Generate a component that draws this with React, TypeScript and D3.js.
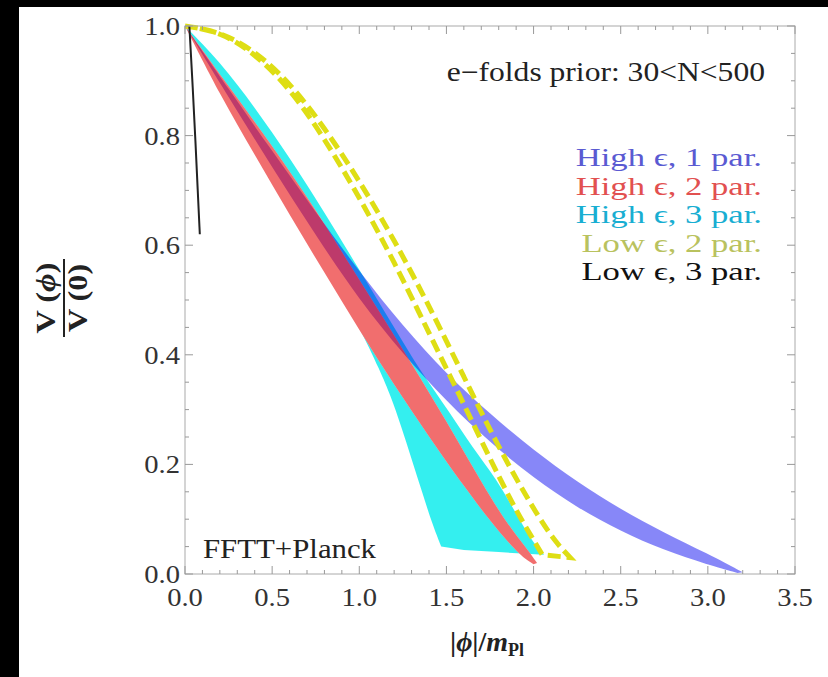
import React from "react";
import * as d3 from "d3";

// ---- data (phi / m_Pl, V / V(0)) ----
const blueOuter: [number, number][] = [
  [0, 1], [0.25, 0.885], [0.5, 0.772], [0.75, 0.66], [1.0, 0.552], [1.25, 0.452], [1.5, 0.365],
  [1.75, 0.292], [2.0, 0.226], [2.25, 0.168], [2.5, 0.118], [2.75, 0.075], [3.0, 0.037], [3.2, 0.003],
];
const blueInner: [number, number][] = [
  [0, 1], [0.25, 0.87], [0.5, 0.742], [0.75, 0.618], [1.0, 0.5], [1.25, 0.402], [1.5, 0.315],
  [1.75, 0.24], [2.0, 0.175], [2.25, 0.121], [2.5, 0.078], [2.75, 0.043], [3.0, 0.017], [3.17, 0.002],
];
const redLeft: [number, number][] = [
  [0, 1], [0.2, 0.875], [0.4, 0.765], [0.6, 0.655], [0.8, 0.55], [1.0, 0.445], [1.2, 0.345],
  [1.4, 0.25], [1.6, 0.16], [1.75, 0.097], [1.88, 0.048], [1.96, 0.025], [2.0, 0.018],
];
const redRight: [number, number][] = [
  [0, 1], [0.25, 0.89], [0.5, 0.782], [0.75, 0.665], [0.95, 0.562], [1.15, 0.462], [1.35, 0.358],
  [1.55, 0.252], [1.7, 0.168], [1.84, 0.095], [1.96, 0.047], [2.02, 0.02],
];
const cyanRight: [number, number][] = [
  [0, 1], [0.2, 0.935], [0.4, 0.852], [0.6, 0.76], [0.8, 0.66], [1.0, 0.555], [1.2, 0.45],
  [1.35, 0.37], [1.52, 0.295], [1.65, 0.23], [1.79, 0.172], [1.9, 0.11], [1.99, 0.06], [2.06, 0.035],
];
const cyanBottom: [number, number][] = [
  [2.06, 0.035], [1.8, 0.04], [1.6, 0.044], [1.47, 0.05],
];
const cyanLeft: [number, number][] = [
  [1.47, 0.05], [1.42, 0.09], [1.36, 0.15], [1.3, 0.21], [1.24, 0.27], [1.18, 0.325],
  [1.12, 0.37], [1.0, 0.452], [0.8, 0.56], [0.5, 0.715], [0.25, 0.86], [0, 1],
];
const yellowOuter: [number, number][] = [
  [0, 1], [0.2, 0.99], [0.4, 0.955], [0.6, 0.897], [0.8, 0.815], [1.0, 0.718], [1.2, 0.61],
  [1.4, 0.49], [1.6, 0.36], [1.8, 0.23], [2.0, 0.118], [2.12, 0.06], [2.21, 0.03],
];
const yellowInner: [number, number][] = [
  [0, 1], [0.2, 0.99], [0.4, 0.95], [0.6, 0.887], [0.8, 0.795], [1.0, 0.688], [1.2, 0.57],
  [1.4, 0.44], [1.6, 0.31], [1.75, 0.21], [1.9, 0.115], [2.0, 0.062], [2.05, 0.035],
];
const blackLine: [number, number][] = [
  [0.025, 1.0], [0.045, 0.885], [0.06, 0.79], [0.073, 0.7], [0.085, 0.62],
];

const xTicks = [0, 0.5, 1.0, 1.5, 2.0, 2.5, 3.0, 3.5];
const yTicks = [0, 0.2, 0.4, 0.6, 0.8, 1.0];
const legendTitle = "e\u2212folds prior: 30<N<500";
const legendLabels = ["High \u03f5, 1 par.", "High \u03f5, 2 par.", "High \u03f5, 3 par.", "Low \u03f5, 2 par.", "Low \u03f5, 3 par."];
const legendColors = ["#5a5ad2", "#e25050", "#18aed2", "#b9c25e", "#111111"];

const W = 828, H = 677;
const FONT = "'Liberation Serif', 'Times New Roman', serif";

export default function App() {
  const x = d3.scaleLinear().domain([0, 3.5]).range([185, 795]);
  const y = d3.scaleLinear().domain([0, 1]).range([574, 26]);
  const line = d3.line<[number, number]>().x((d) => x(d[0])).y((d) => y(d[1])).curve(d3.curveBasis);
  const lin = d3.line<[number, number]>().x((d) => x(d[0])).y((d) => y(d[1]));

  const band = (a: [number, number][], b: [number, number][]) =>
    (line(a) as string) + "L" + (line(b.slice().reverse()) as string).slice(1) + "Z";

  const cyanPath =
    (line(cyanRight) as string) + "L" + (lin(cyanBottom) as string).slice(1) + "L" + (line(cyanLeft) as string).slice(1) + "Z";
  const bluePath = band(blueOuter, blueInner);
  const redPath = band(redRight, redLeft);
  const yellowPath = band(yellowOuter, yellowInner);

  const x0 = x(0), x1 = x(3.5), y0 = y(0), y1 = y(1);
  const xMinor = d3.range(0, 3.5001, 0.1);
  const yMinor = d3.range(0, 1.0001, 0.05);

  const T = (props: any) => {
    const { x: tx, y: ty, sx = 1, children, ...rest } = props;
    return (
      <text transform={`translate(${tx},${ty}) scale(${sx},1)`} fontFamily={FONT} {...rest}>
        {children}
      </text>
    );
  };

  return (
    <div style={{ position: "fixed", left: 0, top: 0 }}>
      <svg width={W} height={H} style={{ display: "block" }}>
        <rect x={0} y={0} width={W} height={H} fill="#000" />
        <rect x={19} y={7} width={W - 19} height={H - 7} fill="#fff" />

        {/* bands */}
        <path d={cyanPath} fill="#10ecec" fillOpacity={0.85} />
        <path d={redPath} fill="#fff" />
        <path d={bluePath} fill="#0000f0" fillOpacity={0.47} />
        <path d={redPath} fill="#e60000" fillOpacity={0.57} />
        <path d={yellowPath} fill="none" stroke="#dede14" strokeWidth={5} strokeDasharray="13,6" />
        <path d={line(blackLine) as string} fill="none" stroke="#222" strokeWidth={2} />

        {/* frame */}
        <rect x={x0} y={y1} width={x1 - x0} height={y0 - y1} fill="none" stroke="#aaa" strokeWidth={1} />
        {xMinor.map((v, i) => {
          const L = i % 5 === 0 ? 8 : 4;
          return (
            <g key={"xt" + i} stroke="#999" strokeWidth={1}>
              <line x1={x(v)} x2={x(v)} y1={y0} y2={y0 - L} />
              <line x1={x(v)} x2={x(v)} y1={y1} y2={y1 + L} />
            </g>
          );
        })}
        {yMinor.map((v, i) => {
          const L = i % 4 === 0 ? 8 : 4;
          return (
            <g key={"yt" + i} stroke="#999" strokeWidth={1}>
              <line x1={x0} x2={x0 + L} y1={y(v)} y2={y(v)} />
              <line x1={x1} x2={x1 - L} y1={y(v)} y2={y(v)} />
            </g>
          );
        })}

        {/* tick labels */}
        {xTicks.map((v) => (
          <T key={"xl" + v} x={x(v)} y={606} fontSize={26} fill="#333" textAnchor="middle" sx={1.1}>
            {v.toFixed(1)}
          </T>
        ))}
        {yTicks.map((v) => (
          <T key={"yl" + v} x={180} y={y(v) + 9} fontSize={26} fill="#333" textAnchor="end" sx={1.1}>
            {v.toFixed(1)}
          </T>
        ))}

        {/* axis titles */}
        <T x={487} y={651} fontSize={28} fill="#222" textAnchor="middle" fontWeight="bold">
          |<tspan fontStyle="italic">ϕ</tspan>|/<tspan fontStyle="italic">m</tspan>
          <tspan fontSize={18} dy={5}>Pl</tspan>
        </T>
        <g transform="translate(64,298) rotate(-90) scale(1.15,1)">
          <text x={0} y={-9} fontFamily={FONT} fontSize={28} fontWeight="bold" fill="#222" textAnchor="middle">
            V (<tspan fontStyle="italic">ϕ</tspan>)
          </text>
          <line x1={-34} x2={34} y1={0} y2={0} stroke="#222" strokeWidth={2} />
          <text x={0} y={23} fontFamily={FONT} fontSize={28} fontWeight="bold" fill="#222" textAnchor="middle">
            V (0)
          </text>
        </g>

        {/* annotations */}
        <T x={203} y={558} fontSize={28} fill="#222" sx={1.1}>FFTT+Planck</T>
        <T x={765} y={81} fontSize={27} fill="#222" textAnchor="end" sx={1.17}>{legendTitle}</T>
        {legendLabels.map((s, i) => (
          <T key={s} x={762} y={166 + i * 28.5} fontSize={25.5} fill={legendColors[i]} textAnchor="end" sx={1.36}>
            {s}
          </T>
        ))}
      </svg>
    </div>
  );
}
